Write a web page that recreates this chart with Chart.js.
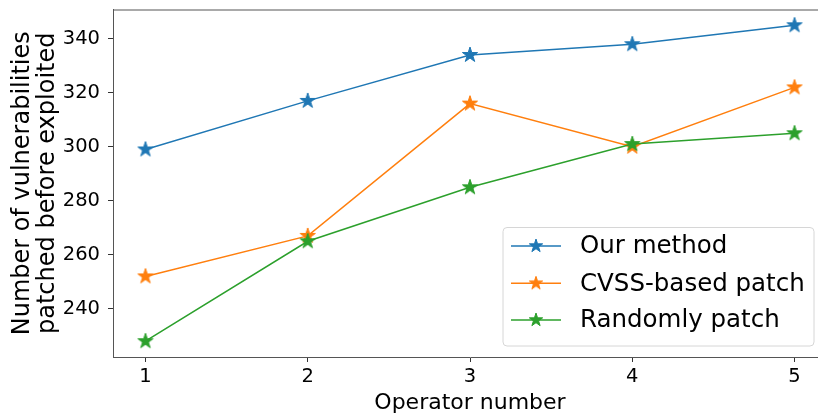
<!DOCTYPE html>
<html>
<head>
<meta charset="utf-8">
<script src="https://cdn.jsdelivr.net/npm/chart.js@4.4.1/dist/chart.umd.min.js"></script>
<style>
  html, body { margin: 0; padding: 0; background: #fff; overflow: hidden; }
  #wrap { width: 840px; height: 414px; }
</style>
</head>
<body>
<div id="wrap"><canvas id="chart" width="840" height="414"></canvas></div>
<script>
// Operators on the x axis and vulnerabilities patched for each strategy
const operators = [1, 2, 3, 4, 5];
const ourMethod = [299, 317, 334, 338, 345];
const cvssBased = [252, 267, 316, 300, 322];
const randomly = [228, 265, 285, 301, 305];
const seriesNames = ['Our method', 'CVSS-based patch', 'Randomly patch'];
const seriesColors = ['#1f77b4', '#ff7f0e', '#2ca02c'];
const xTicks = [1, 2, 3, 4, 5];
const yTicks = [240, 260, 280, 300, 320, 340];
const xTitle = 'Operator number';
const yTitle = ['Number of vulnerabilities', 'patched before exploited'];

const FONT = "'DejaVu Sans', sans-serif";

// Filled five-point star used as the point marker
function starImage(color, r) {
  const size = Math.ceil(r * 2 + 4);
  const c = document.createElement('canvas');
  c.width = size; c.height = size;
  const g = c.getContext('2d');
  const cx = size / 2, cy = size / 2, ri = r * 0.381966;
  g.beginPath();
  for (let i = 0; i < 10; i++) {
    const rad = i % 2 === 0 ? r : ri;
    const a = -Math.PI / 2 + i * Math.PI / 5;
    const px = cx + rad * Math.cos(a), py = cy + rad * Math.sin(a);
    if (i === 0) g.moveTo(px, py); else g.lineTo(px, py);
  }
  g.closePath();
  g.fillStyle = color; g.fill();
  g.lineWidth = 1; g.strokeStyle = color; g.stroke();
  return c;
}

const seriesValues = [ourMethod, cvssBased, randomly];
const datasets = seriesValues.map((vals, i) => ({
  label: seriesNames[i],
  data: operators.map((x, j) => ({ x: x, y: vals[j] })),
  borderColor: seriesColors[i],
  backgroundColor: seriesColors[i],
  borderWidth: 1.5,
  pointStyle: starImage(seriesColors[i], 8),
  pointRadius: 8,
  pointHoverRadius: 8,
  tension: 0,
  fill: false,
  order: 2 - i,
  legendStar: starImage(seriesColors[i], 7)
}));

// Top and right spines
const framePlugin = {
  id: 'frame',
  afterDraw(chart) {
    const { ctx, chartArea: a } = chart;
    ctx.save();
    ctx.strokeStyle = '#555';
    ctx.lineWidth = 1;
    ctx.beginPath();
    ctx.moveTo(a.left, a.top + 0.5);
    ctx.lineTo(a.right, a.top + 0.5);
    ctx.lineTo(a.right, a.bottom);
    ctx.stroke();
    ctx.restore();
  }
};

// Legend box inside the plot, lower right
const legendPlugin = {
  id: 'insideLegend',
  afterDraw(chart) {
    const { ctx } = chart;
    const box = { x: 503, y: 227.5, w: 311, h: 118.5 };
    ctx.save();
    ctx.beginPath();
    ctx.roundRect(box.x, box.y, box.w, box.h, 4);
    ctx.fillStyle = 'rgba(255,255,255,0.8)';
    ctx.fill();
    ctx.strokeStyle = '#d6d6d6';
    ctx.lineWidth = 1;
    ctx.stroke();
    const rows = [246, 283.3, 320];
    chart.data.datasets.forEach((ds, i) => {
      const y = rows[i];
      ctx.strokeStyle = ds.borderColor;
      ctx.lineWidth = 1.5;
      ctx.beginPath();
      ctx.moveTo(511, y);
      ctx.lineTo(561, y);
      ctx.stroke();
      const img = ds.legendStar;
      ctx.drawImage(img, 536 - img.width / 2, y - img.height / 2);
      ctx.fillStyle = '#000';
      ctx.font = '24.5px ' + FONT;
      ctx.textBaseline = 'middle';
      ctx.textAlign = 'left';
      ctx.fillText(ds.label, 580, y + 1);
    });
    ctx.restore();
  }
};

new Chart(document.getElementById('chart'), {
  type: 'line',
  data: { datasets },
  options: {
    responsive: false,
    animation: false,
    layout: { padding: { top: 9, right: 13, left: 0, bottom: 0 } },
    plugins: { legend: { display: false }, tooltip: { enabled: false } },
    scales: {
      x: {
        type: 'linear',
        min: 0.8,
        max: 5.2,
        afterFit(scale) { scale.height = 57; scale.paddingLeft = 0; scale.paddingRight = 0; },
        afterBuildTicks(scale) { scale.ticks = xTicks.map(v => ({ value: v })); },
        grid: { display: true, drawOnChartArea: false, drawTicks: true, tickLength: 5, color: '#333' },
        border: { display: true, color: '#555', width: 1 },
        ticks: { color: '#000', font: { family: FONT, size: 19.5 }, padding: 3, maxRotation: 0, autoSkip: false },
        title: { display: true, text: xTitle, color: '#000', font: { family: FONT, size: 22, lineHeight: 1.2 }, padding: { top: 0, bottom: -2 } }
      },
      y: {
        type: 'linear',
        min: 222.15,
        max: 350.85,
        afterFit(scale) { scale.width = 113; scale.paddingTop = 0; scale.paddingBottom = 0; },
        afterBuildTicks(scale) { scale.ticks = yTicks.map(v => ({ value: v })); },
        grid: { display: true, drawOnChartArea: false, drawTicks: true, tickLength: 5, color: '#333' },
        border: { display: true, color: '#555', width: 1 },
        ticks: { color: '#000', font: { family: FONT, size: 19.5 }, padding: 8, autoSkip: false },
        title: { display: true, text: yTitle, color: '#000', font: { family: FONT, size: 24, lineHeight: 1.05 }, padding: { top: 10, bottom: 0 } }
      }
    }
  },
  plugins: [framePlugin, legendPlugin]
});
</script>
</body>
</html>
